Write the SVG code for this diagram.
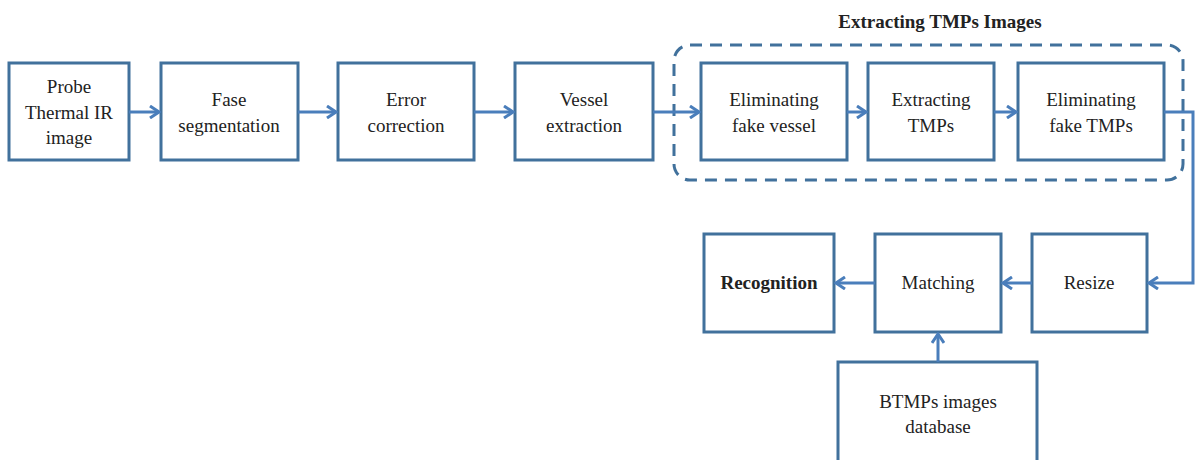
<svg xmlns="http://www.w3.org/2000/svg" width="1198" height="460" viewBox="0 0 1198 460">
<style>
.box{fill:#fff;stroke:#41719c;stroke-width:3}
.t{font-family:"Liberation Serif","Times New Roman",Tinos,"DejaVu Serif",serif;font-size:19px;fill:#222;text-anchor:middle}
.b{font-weight:bold}
.c{fill:none;stroke:#4a7ebb;stroke-width:3}
</style>
<defs>
<marker id="ah" viewBox="0 0 14 14" refX="12" refY="7" markerWidth="14" markerHeight="14" markerUnits="userSpaceOnUse" orient="auto">
<path d="M3,1 L12,7 L3,13" fill="none" stroke="#4a7ebb" stroke-width="3"/>
</marker>
</defs>
<rect width="1198" height="460" fill="#fff"/>
<g id="group-tmps">
<rect x="674" y="45" width="509" height="135" rx="16" fill="none" stroke="#41719c" stroke-width="3" stroke-dasharray="12,8"/>
<text class="t b" x="940" y="28">Extracting TMPs Images</text>
</g>
<g id="n1"><rect class="box" x="9" y="63" width="120" height="97"/>
<text class="t" x="69" y="93">Probe</text><text class="t" x="69" y="119">Thermal IR</text><text class="t" x="69" y="144">image</text></g>
<g id="n2"><rect class="box" x="161" y="63" width="137" height="97"/>
<text class="t" x="229" y="106">Fase</text><text class="t" x="229" y="132">segmentation</text></g>
<g id="n3"><rect class="box" x="338" y="63" width="136" height="97"/>
<text class="t" x="406" y="106">Error</text><text class="t" x="406" y="132">correction</text></g>
<g id="n4"><rect class="box" x="515" y="63" width="138" height="97"/>
<text class="t" x="584" y="106">Vessel</text><text class="t" x="584" y="132">extraction</text></g>
<g id="n5"><rect class="box" x="701" y="63" width="146" height="97"/>
<text class="t" x="774" y="106">Eliminating</text><text class="t" x="774" y="132">fake vessel</text></g>
<g id="n6"><rect class="box" x="868" y="63" width="126" height="97"/>
<text class="t" x="931" y="106">Extracting</text><text class="t" x="931" y="132">TMPs</text></g>
<g id="n7"><rect class="box" x="1018" y="63" width="146" height="97"/>
<text class="t" x="1091" y="106">Eliminating</text><text class="t" x="1091" y="132">fake TMPs</text></g>
<g id="n8"><rect class="box" x="704" y="234" width="130" height="98"/>
<text class="t b" x="769" y="289">Recognition</text></g>
<g id="n9"><rect class="box" x="875" y="234" width="126" height="98"/>
<text class="t" x="938" y="289">Matching</text></g>
<g id="n10"><rect class="box" x="1032" y="234" width="115" height="98"/>
<text class="t" x="1089" y="289">Resize</text></g>
<g id="n11"><rect class="box" x="838" y="362" width="199" height="110"/>
<text class="t" x="938" y="408">BTMPs images</text><text class="t" x="938" y="433">database</text></g>
<g id="connectors">
<path class="c" d="M129,112 H159" marker-end="url(#ah)"/>
<path class="c" d="M298,112 H336" marker-end="url(#ah)"/>
<path class="c" d="M474,112 H513" marker-end="url(#ah)"/>
<path class="c" d="M653,112 H699" marker-end="url(#ah)"/>
<path class="c" d="M847,112 H866" marker-end="url(#ah)"/>
<path class="c" d="M994,112 H1016" marker-end="url(#ah)"/>
<path class="c" d="M1164,112 H1193 V283 H1149" marker-end="url(#ah)"/>
<path class="c" d="M1032,283 H1003" marker-end="url(#ah)"/>
<path class="c" d="M875,283 H836" marker-end="url(#ah)"/>
<path class="c" d="M938,362 V334" marker-end="url(#ah)"/>
</g>
</svg>
